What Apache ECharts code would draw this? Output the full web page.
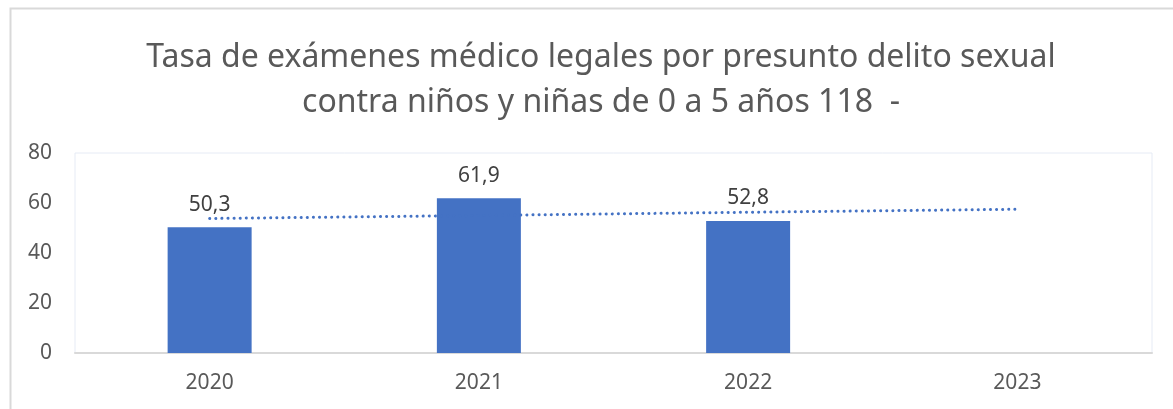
<!DOCTYPE html>
<html>

<head>
    <meta charset="utf-8" />
    <script src="https://cdn.jsdelivr.net/npm/echarts@6/dist/echarts.min.js"></script>
    <style>
        html, body { margin: 0; padding: 0; background: #fff; }
    </style>
</head>

<body>
    <div id="main" style="width: 1173px;height:409px;"></div>
    <script type="text/javascript">
        const YEARS = ["2020", "2021", "2022", "2023"];
        const TASA = [50.3, 61.9, 52.8, null];
        // tendencia lineal
        const TREND = [53.8, 55.0, 56.3, 57.5];
        const Y_TICKS = [0, 20, 40, 60, 80];

        const BLUE = '#4472C4';
        const GREY = '#595959';

        const myChart = echarts.init(document.getElementById('main'));
        myChart.setOption({
            animation: false,
            textStyle: { fontFamily: 'Noto Sans' },
            title: {
                text: 'Tasa de exámenes médico legales por presunto delito sexual\ncontra niños y niñas de 0 a 5 años 118  -',
                left: 596,
                top: 30,
                textAlign: 'center',
                textStyle: {
                    color: GREY,
                    fontSize: 32,
                    fontWeight: 'normal',
                    lineHeight: 45,
                    fontFamily: 'Noto Sans'
                }
            },
            graphic: [{
                type: 'rect',
                shape: { x: 10.5, y: 8.5, width: 1200, height: 450 },
                style: { fill: 'none', stroke: '#d9d9d9', lineWidth: 2 },
                silent: true
            }],
            grid: {
                left: 75,
                right: 21,
                top: 153,
                bottom: 56,
                show: true,
                borderColor: '#e6ebf5',
                borderWidth: 1,
                backgroundColor: 'transparent'
            },
            xAxis: {
                type: 'category',
                data: YEARS,
                axisLine: { lineStyle: { color: '#d9d9d9', width: 2 } },
                axisTick: { show: false },
                axisLabel: { color: GREY, fontSize: 21, margin: 20 }
            },
            yAxis: {
                type: 'value',
                min: Y_TICKS[0],
                max: Y_TICKS[Y_TICKS.length - 1],
                interval: 20,
                splitLine: { show: false },
                axisLine: { show: false },
                axisTick: { show: false },
                axisLabel: { color: GREY, fontSize: 21, margin: 23 }
            },
            series: [{
                type: 'bar',
                data: TASA,
                barWidth: 84,
                itemStyle: { color: BLUE },
                label: {
                    show: true,
                    position: 'top',
                    distance: 12,
                    color: '#404040',
                    fontSize: 21,
                    formatter: p => p.value == null ? '' : String(p.value).replace('.', ',')
                }
            }, {
                type: 'line',
                data: TREND,
                symbol: 'none',
                lineStyle: { color: BLUE, width: 3, type: [0.1, 6], cap: 'round' },
                z: 3
            }]
        });
    </script>
</body>

</html>
